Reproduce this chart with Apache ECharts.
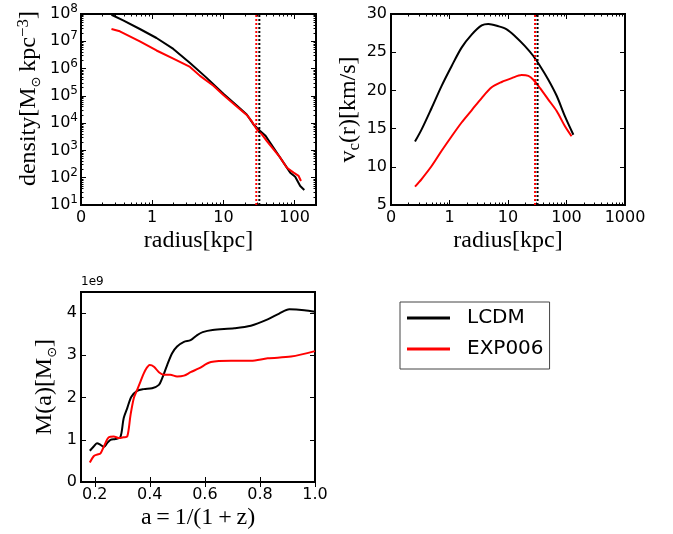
<!DOCTYPE html>
<html><head><meta charset="utf-8">
<script src="https://cdn.jsdelivr.net/npm/echarts@6/dist/echarts.min.js"></script>
<style>html,body{margin:0;padding:0;background:#fff}#c{width:673px;height:534px}</style>
</head><body><div id="c"></div>
<script>
// ---------- data ----------
const seriesNames = ['LCDM', 'EXP006'];
// density profile (top-left)
const rDensLCDM = [0.268, 0.391, 0.671, 1.15, 1.98, 3.40, 5.83, 10.0, 15.4, 21.3, 26.5, 32.9, 38.7, 45.5, 56.5, 70.0, 86.9, 102, 120, 137];
const densLCDM  = [9.4e7, 5.85e7, 2.82e7, 1.32e7, 5.24e6, 1.61e6, 4.56e5, 1.19e5, 4.4e4, 2.08e4, 8.97e3, 5.12e3, 3.55e3, 1.91e3, 826, 356, 153, 109, 49.9, 35.6];
const rDensEXP  = [0.268, 0.351, 0.671, 1.15, 1.98, 3.40, 4.70, 7.24, 10.0, 15.4, 21.3, 25.1, 29.5, 34.7, 40.8, 50.7, 62.9, 78.1, 96.9, 114, 123];
const densEXP   = [2.82e7, 2.32e7, 1.0e7, 4.6e6, 2.3e6, 1.15e6, 5.4e5, 2.35e5, 1.07e5, 4.1e4, 2.0e4, 1.15e4, 5.89e3, 3.87e3, 2.2e3, 1.09e3, 542, 233, 153, 116, 76];
// circular velocity (top-right)
const rVcLCDM = [0.257, 0.334, 0.495, 0.734, 1.09, 1.61, 2.39, 3.55, 4.61, 6.84, 9.49, 13.2, 19.5, 27.1, 35.3, 48.9, 67.9, 94.2, 131];
const vcLCDM  = [13.3, 14.9, 17.7, 20.6, 23.2, 25.6, 27.3, 28.5, 28.7, 28.4, 28.0, 27.1, 25.8, 24.5, 23.2, 21.4, 19.3, 16.6, 14.2];
const rVcEXP  = [0.257, 0.334, 0.495, 0.734, 1.09, 1.61, 2.39, 3.55, 5.26, 7.80, 11.6, 17.1, 22.3, 27.1, 35.3, 48.9, 67.9, 94.2, 122];
const vcEXP   = [7.4, 8.4, 10.1, 12.1, 14.0, 15.8, 17.4, 19.0, 20.4, 21.1, 21.6, 22.0, 21.9, 21.4, 20.3, 18.8, 17.3, 15.3, 14.0];
// virial radii (dotted vertical lines)
const rvirLCDM = 32;
const rvirEXP = 29;
// mass accretion history (bottom-left)
const aLCDM = [0.182, 0.196, 0.208, 0.221, 0.233, 0.245, 0.257, 0.275, 0.293, 0.305, 0.318, 0.333, 0.354, 0.378, 0.408, 0.433, 0.445, 0.463, 0.481, 0.499, 0.524, 0.548, 0.572, 0.592, 0.628, 0.707, 0.767, 0.828, 0.870, 0.907, 0.961, 1.0];
const mLCDM = [0.74e9, 0.84e9, 0.92e9, 0.88e9, 0.83e9, 0.92e9, 1.0e9, 1.02e9, 1.06e9, 1.51e9, 1.75e9, 2.02e9, 2.16e9, 2.20e9, 2.22e9, 2.30e9, 2.46e9, 2.77e9, 3.05e9, 3.21e9, 3.32e9, 3.36e9, 3.48e9, 3.55e9, 3.60e9, 3.64e9, 3.70e9, 3.85e9, 3.99e9, 4.09e9, 4.07e9, 4.03e9];
const aEXP  = [0.182, 0.196, 0.208, 0.221, 0.233, 0.251, 0.269, 0.287, 0.305, 0.318, 0.330, 0.342, 0.354, 0.366, 0.384, 0.400, 0.415, 0.433, 0.451, 0.474, 0.499, 0.524, 0.548, 0.578, 0.622, 0.695, 0.767, 0.828, 0.913, 1.0];
const mEXP  = [0.46e9, 0.61e9, 0.65e9, 0.68e9, 0.84e9, 1.06e9, 1.08e9, 1.04e9, 1.06e9, 1.08e9, 1.59e9, 1.99e9, 2.18e9, 2.38e9, 2.65e9, 2.77e9, 2.73e9, 2.60e9, 2.54e9, 2.54e9, 2.50e9, 2.52e9, 2.60e9, 2.69e9, 2.84e9, 2.87e9, 2.87e9, 2.93e9, 2.97e9, 3.10e9];
// ticks
const densXTicks = [0.1, 1, 10, 100];
const densXMinor = [0.2,0.3,0.4,0.5,0.6,0.7,0.8,0.9, 2,3,4,5,6,7,8,9, 20,30,40,50,60,70,80,90];
const densYTicks = [10, 1e2, 1e3, 1e4, 1e5, 1e6, 1e7, 1e8];
const densYMinor = (function(){ const o=[]; [10,1e2,1e3,1e4,1e5,1e6,1e7].forEach(d=>{for(let k=2;k<=9;k++) o.push(k*d);}); return o; })();
const vcXTicks = [0.1, 1, 10, 100, 1000];
const vcXMinor = [0.2,0.3,0.4,0.5,0.6,0.7,0.8,0.9, 2,3,4,5,6,7,8,9, 20,30,40,50,60,70,80,90, 200,300,400,500,600,700,800,900];
const mXTicks = [0.2, 0.4, 0.6, 0.8, 1.0];
const mXLabels = ['0.2', '0.4', '0.6', '0.8', '1.0'];
const mYTicks = [0, 1e9, 2e9, 3e9, 4e9];

// ---------- chart ----------
const BLACK = '#000000', RED = '#ff0000';
const SANS = 'DejaVu Sans', SERIF = 'Liberation Serif';
const zip = (xs, ys) => xs.map((x, i) => [x, ys[i]]);

function nameStyle(extra) {
  return Object.assign({
    fontFamily: SERIF, fontSize: 24, color: '#000', lineHeight: 28,
    rich: {
      sub: {fontFamily: SANS, fontSize: 13, color: '#000', verticalAlign: 'bottom', lineHeight: 14},
      subs: {fontFamily: SERIF, fontSize: 17, color: '#000', verticalAlign: 'bottom', lineHeight: 18},
      sup: {fontFamily: SERIF, fontSize: 17, color: '#000', verticalAlign: 'top', lineHeight: 16}
    }
  }, extra || {});
}
const labelBase = {fontFamily: SANS, fontSize: 16, color: '#000'};
const majorTick = (vals) => ({show: true, inside: true, length: 5, lineStyle: {color: '#000', width: 1}, customValues: vals});
const minorTick = (vals) => ({show: true, inside: true, length: 2.5, lineStyle: {color: '#000', width: 1}, customValues: vals});
const off = {axisLine: {show: false}, splitLine: {show: false}};
const logFmt = v => (Number(v) < 1 ? '0' : String(Math.round(Number(v))));
const mXFmt = v => {
  const i = mXTicks.findIndex(t => Math.abs(t - Number(v)) < 1e-6);
  return '{t|' + (i >= 0 ? mXLabels[i] : Number(v).toFixed(1)) + '}';
};

function logX(grid, min, max, pos, ticks, minor, withLabels, name) {
  const ax = Object.assign({type: 'log', logBase: 10, gridIndex: grid, min, max, position: pos}, off);
  ax.axisTick = minor ? minorTick(ticks) : majorTick(ticks);
  ax.axisLabel = withLabels ? Object.assign({show: true, margin: 5, customValues: ticks, formatter: logFmt}, labelBase) : {show: false};
  if (name) { ax.name = name; ax.nameLocation = 'middle'; ax.nameGap = 17; ax.nameTextStyle = nameStyle(); }
  return ax;
}

const xAxis = [
  logX(0, 0.1, 200, 'bottom', densXTicks, false, true, 'radius[kpc]'),
  logX(0, 0.1, 200, 'top', densXTicks, false, false),
  logX(0, 0.1, 200, 'bottom', densXMinor, true, false),
  logX(0, 0.1, 200, 'top', densXMinor, true, false),
  logX(1, 0.1, 1000, 'bottom', vcXTicks, false, true, 'radius[kpc]'),
  logX(1, 0.1, 1000, 'top', vcXTicks, false, false),
  logX(1, 0.1, 1000, 'bottom', vcXMinor, true, false),
  logX(1, 0.1, 1000, 'top', vcXMinor, true, false),
  Object.assign({type: 'value', gridIndex: 2, min: 0.15, max: 1.0, position: 'bottom',
    axisTick: majorTick(mXTicks),
    axisLabel: Object.assign({margin: 5, customValues: mXTicks, formatter: mXFmt,
      rich: {t: {fontFamily: SANS, fontSize: 16, color: '#000'}}}, labelBase),
    name: 'a\u2009=\u20091/(1\u2009+\u2009z)', nameLocation: 'middle', nameGap: 18, nameTextStyle: nameStyle()}, off),
  Object.assign({type: 'value', gridIndex: 2, min: 0.15, max: 1.0, position: 'top',
    axisTick: majorTick(mXTicks), axisLabel: {show: false}}, off)
];

const yAxis = [
  Object.assign({type: 'log', logBase: 10, gridIndex: 0, min: 10, max: 1e8, position: 'left',
    axisTick: majorTick(densYTicks),
    axisLabel: Object.assign({margin: 3, customValues: densYTicks, lineHeight: 22,
      formatter: v => '10{sup|' + Math.round(Math.log10(Number(v))) + '}',
      rich: {sup: {fontFamily: SANS, fontSize: 12, color: '#000', verticalAlign: 'top', lineHeight: 12}}}, labelBase),
    name: 'density[M{sub|\u2299}\u2009kpc{sup|\u22123}]', nameLocation: 'middle', nameRotate: 90, nameGap: 38,
    nameTextStyle: nameStyle({padding: [0, 0, 0, 22]})}, off),
  Object.assign({type: 'log', logBase: 10, gridIndex: 0, min: 10, max: 1e8, position: 'right',
    axisTick: majorTick(densYTicks), axisLabel: {show: false}}, off),
  Object.assign({type: 'log', logBase: 10, gridIndex: 0, min: 10, max: 1e8, position: 'left',
    axisTick: minorTick(densYMinor), axisLabel: {show: false}}, off),
  Object.assign({type: 'log', logBase: 10, gridIndex: 0, min: 10, max: 1e8, position: 'right',
    axisTick: minorTick(densYMinor), axisLabel: {show: false}}, off),
  Object.assign({type: 'value', gridIndex: 1, min: 5, max: 30, interval: 5, position: 'left',
    axisTick: {show: true, inside: true, length: 5, lineStyle: {color: '#000', width: 1}},
    axisLabel: Object.assign({margin: 4}, labelBase),
    name: 'v{subs|c}(r)[km/s]', nameLocation: 'middle', nameRotate: 90, nameGap: 28, nameTextStyle: nameStyle()}, off),
  Object.assign({type: 'value', gridIndex: 1, min: 5, max: 30, interval: 5, position: 'right',
    axisTick: {show: true, inside: true, length: 5, lineStyle: {color: '#000', width: 1}}, axisLabel: {show: false}}, off),
  Object.assign({type: 'value', gridIndex: 2, min: 0, max: 4.5e9, position: 'left',
    axisTick: majorTick(mYTicks),
    axisLabel: Object.assign({margin: 4, customValues: mYTicks, formatter: v => String(Math.round(Number(v) / 1e9))}, labelBase),
    name: 'M(a)[M{sub|\u2299}]', nameLocation: 'middle', nameRotate: 90, nameGap: 22, nameTextStyle: nameStyle()}, off),
  Object.assign({type: 'value', gridIndex: 2, min: 0, max: 4.5e9, position: 'right',
    axisTick: majorTick(mYTicks), axisLabel: {show: false}}, off),
  Object.assign({type: 'value', gridIndex: 2, min: 0, max: 4.5e9, position: 'left',
    axisTick: {show: false}, axisLabel: {show: false},
    name: '1e9', nameLocation: 'end', nameGap: 4,
    nameTextStyle: {fontFamily: SANS, fontSize: 12, color: '#000', align: 'left', verticalAlign: 'bottom'}}, off)
];

const gridBase = {show: true, borderColor: '#000', borderWidth: 2, backgroundColor: 'transparent'};
const grid = [
  Object.assign({left: 81, top: 14, width: 235, height: 191}, gridBase),
  Object.assign({left: 391, top: 14, width: 234, height: 191}, gridBase),
  Object.assign({left: 81, top: 292, width: 234, height: 190}, gridBase)
];

const lineS = (name, data, color, xi, yi, extra) => Object.assign({
  type: 'line', name, data, xAxisIndex: xi, yAxisIndex: yi, showSymbol: false, symbol: 'none',
  lineStyle: {color, width: 2}, itemStyle: {color}, clip: true, silent: true
}, extra || {});
const vline = (name, x, y0, y1, color, xi, yi) => lineS(name, [[x, y0], [x, y1]], color, xi, yi,
  {lineStyle: {color, width: 2, type: [2, 2]}, z: 3});

const series = [
  lineS('LCDM', zip(rDensLCDM, densLCDM), BLACK, 0, 0),
  lineS('EXP006', zip(rDensEXP, densEXP), RED, 0, 0),
  vline('rvir EXP006 a', rvirEXP, 10, 1e8, RED, 0, 0),
  vline('rvir LCDM a', rvirLCDM, 10, 1e8, BLACK, 0, 0),
  lineS('LCDM', zip(rVcLCDM, vcLCDM), BLACK, 4, 4, {smooth: 0.3}),
  lineS('EXP006', zip(rVcEXP, vcEXP), RED, 4, 4, {smooth: 0.3}),
  vline('rvir EXP006 b', rvirEXP, 5, 30, RED, 4, 4),
  vline('rvir LCDM b', rvirLCDM, 5, 30, BLACK, 4, 4),
  lineS('LCDM', zip(aLCDM, mLCDM), BLACK, 8, 6, {smooth: 0.3}),
  lineS('EXP006', zip(aEXP, mEXP), RED, 8, 6, {smooth: 0.3})
];

const chart = echarts.init(document.getElementById('c'), null, {renderer: 'canvas'});
chart.setOption({
  animation: false,
  backgroundColor: '#fff',
  textStyle: {fontFamily: SANS},
  grid, xAxis, yAxis, series,
  legend: {
    data: seriesNames, orient: 'vertical', left: 400, top: 302,
    padding: [6, 6, 10, 7], itemGap: 11, itemWidth: 43, itemHeight: 3, icon: 'rect',
    borderColor: '#444', borderWidth: 1, borderRadius: 0, backgroundColor: '#fff',
    textStyle: {fontFamily: SANS, fontSize: 20, color: '#000', lineHeight: 20, padding: [0, 0, 0, 12]},
    selectedMode: false
  }
});
</script></body></html>
